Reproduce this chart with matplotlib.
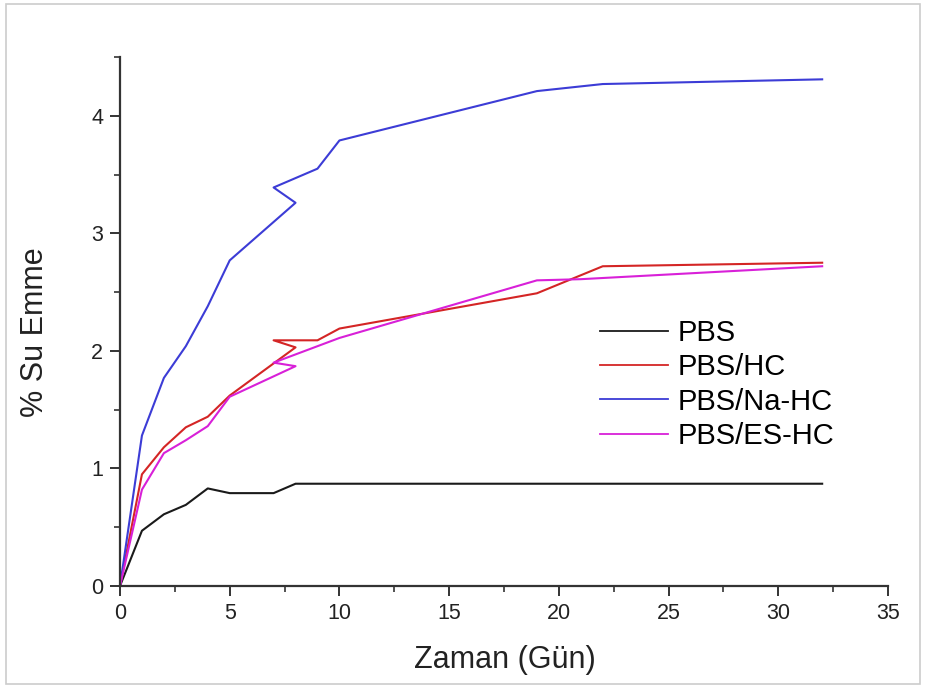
import matplotlib
matplotlib.use("Agg")
import matplotlib.pyplot as plt
from matplotlib.patches import Rectangle
from matplotlib.ticker import MultipleLocator

plt.rcParams['font.family'] = ['Liberation Sans', 'DejaVu Sans']

# Data
pbs_x = [0, 1, 2, 3, 4, 5, 7, 8, 32]
pbs_y = [0, 0.47, 0.61, 0.69, 0.83, 0.79, 0.79, 0.87, 0.87]

hc_x = [0, 1, 2, 3, 4, 5, 8, 7, 9, 10, 19, 22, 32]
hc_y = [0, 0.95, 1.18, 1.35, 1.44, 1.62, 2.03, 2.09, 2.09, 2.19, 2.49, 2.72, 2.75]

na_x = [0, 1, 2, 3, 4, 5, 8, 7, 9, 10, 19, 22, 32]
na_y = [0, 1.28, 1.77, 2.04, 2.38, 2.77, 3.26, 3.39, 3.55, 3.79, 4.21, 4.27, 4.31]

es_x = [0, 1, 2, 3, 4, 5, 8, 7, 10, 19, 21, 32]
es_y = [0, 0.82, 1.13, 1.24, 1.36, 1.61, 1.87, 1.90, 2.11, 2.60, 2.61, 2.72]

labels = ["PBS", "PBS/HC", "PBS/Na-HC", "PBS/ES-HC"]
colors = ["#1a1a1a", "#d42525", "#3c3cd6", "#d820d8"]

fig = plt.figure(figsize=(9.26, 6.88), dpi=100)
ax = fig.add_axes([120/926, 102/688, 768/926, 529/688])

for (x, y), lab, c in zip([(pbs_x, pbs_y), (hc_x, hc_y), (na_x, na_y), (es_x, es_y)], labels, colors):
    ax.plot(x, y, color=c, lw=1.5, label=lab)

ax.set_xlim(0, 35)
ax.set_ylim(0, 4.5)
ax.xaxis.set_major_locator(MultipleLocator(5))
ax.xaxis.set_minor_locator(MultipleLocator(2.5))
ax.yaxis.set_major_locator(MultipleLocator(1))
ax.yaxis.set_minor_locator(MultipleLocator(0.5))
for s in ['top', 'right']:
    ax.spines[s].set_visible(False)
for s in ['left', 'bottom']:
    ax.spines[s].set_linewidth(1.6)
    ax.spines[s].set_color('#333333')
ax.tick_params(which='major', direction='out', length=7, width=1.4, labelsize=15.5, colors='#333333', pad=5)
ax.tick_params(which='minor', direction='out', length=4, width=1.2, colors='#333333')
for t in ax.get_xticklabels() + ax.get_yticklabels():
    t.set_color('#222222')

ax.set_xlabel("Zaman (Gün)", fontsize=22, color='#222222')
ax.set_ylabel("% Su Emme", fontsize=22, color='#222222')
ax.xaxis.set_label_coords(0.501, -0.14)
ax.xaxis.label.set_va('center')
ax.yaxis.set_label_coords(-0.111, 0.48)
ax.yaxis.label.set_va('center')

leg = ax.legend(loc='upper left', bbox_to_anchor=(0.625, 0.505), frameon=False,
                fontsize=21, handlelength=2.33, handletextpad=0.34, labelspacing=0.22,
                borderpad=0, borderaxespad=0)
for h in leg.get_lines():
    h.set_linewidth(1.3)

fig.patches.append(Rectangle((6/926, 4/688), 914/926, 680/688, transform=fig.transFigure,
                             fill=False, edgecolor='#cccccc', lw=1.2))

fig.savefig("out.png", dpi=100)
